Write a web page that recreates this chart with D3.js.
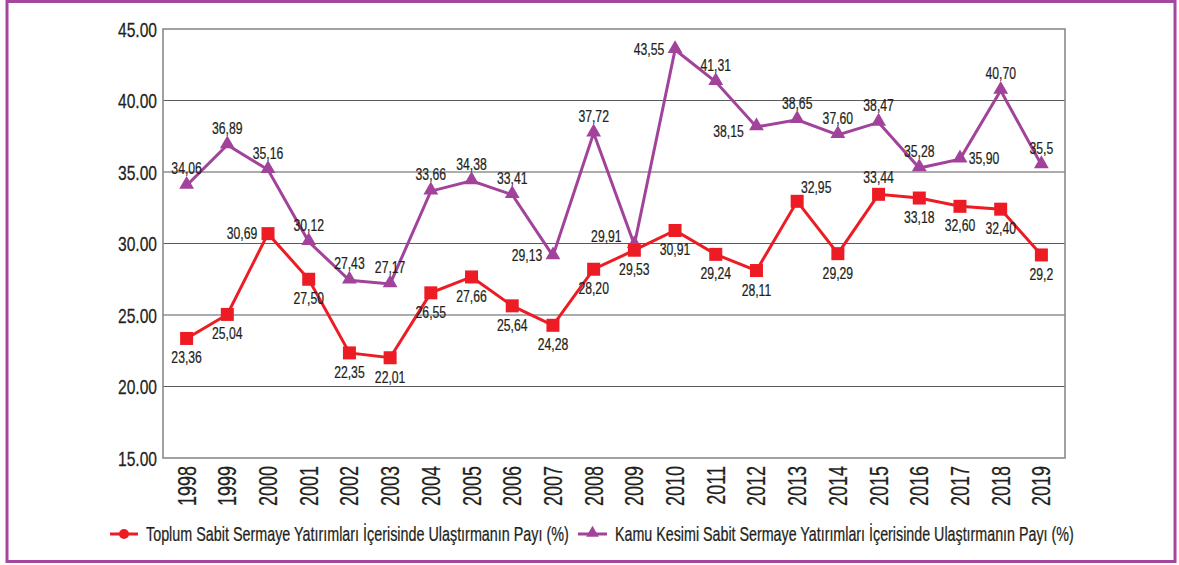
<!DOCTYPE html>
<html>
<head>
<meta charset="utf-8">
<script src="https://cdn.jsdelivr.net/npm/d3@7"></script>
<style>
  html, body { margin: 0; padding: 0; background: #fff; }
  svg text { font-family: "Liberation Sans", Arial, sans-serif; fill: #231F20; stroke: #231F20; stroke-width: 0.25px; }
</style>
</head>
<body>
<svg id="chart" width="1179" height="565"></svg>
<script>
const years = ["1998","1999","2000","2001","2002","2003","2004","2005","2006","2007","2008","2009","2010","2011","2012","2013","2014","2015","2016","2017","2018","2019"];
const toplumValues = [23.36,25.04,30.69,27.50,22.35,22.01,26.55,27.66,25.64,24.28,28.20,29.53,30.91,29.24,28.11,32.95,29.29,33.44,33.18,32.60,32.40,29.2];
const toplumLabels = ["23,36","25,04","30,69","27,50","22,35","22,01","26,55","27,66","25,64","24,28","28,20","29,53","30,91","29,24","28,11","32,95","29,29","33,44","33,18","32,60","32,40","29,2"];
const kamuValues = [34.06,36.89,35.16,30.12,27.43,27.17,33.66,34.38,33.41,29.13,37.72,29.91,43.55,41.31,38.15,38.65,37.60,38.47,35.28,35.90,40.70,35.5];
const kamuLabels = ["34,06","36,89","35,16","30,12","27,43","27,17","33,66","34,38","33,41","29,13","37,72","29,91","43,55","41,31","38,15","38,65","37,60","38,47","35,28","35,90","40,70","35,5"];
const yTicks = [15,20,25,30,35,40,45];
const seriesNames = ["Toplum Sabit Sermaye Yatırımları İçerisinde Ulaştırmanın Payı (%)","Kamu Kesimi Sabit Sermaye Yatırımları İçerisinde Ulaştırmanın Payı (%)"];
// label placement codes (t = above, b = below, l = left, r = right, ...)
const toplumPlace = ["b","b","l","b","b","b","b","b","b","b","b","b","b","b","b","tr","b","t","b","b","b","b"];
const kamuPlace = ["t","t","t","t","t","t","t","t","t","l","t","lt","l","t","lb","t","t","t","t","r","t","t"];

const RED = "#ED1C24", PURPLE = "#A2439B", TEXT = "#231F20";
const svg = d3.select("#chart");

// outer frame
svg.append("rect").attr("x", 7).attr("y", 1.5).attr("width", 1168).attr("height", 560)
  .attr("fill", "none").attr("stroke", "#A5479E").attr("stroke-width", 3);

const pLeft = 163, pRight = 1065, pTop = 29, pBottom = 458;
const x = d3.scalePoint().domain(years).range([pLeft, pRight]).padding(0.58);
const y = d3.scaleLinear().domain([15, 45]).range([pBottom, pTop]);

// gridlines
svg.append("g").selectAll("line").data(yTicks.filter(t => t > 15 && t < 45)).join("line")
  .attr("x1", pLeft).attr("x2", pRight).attr("y1", d => y(d)).attr("y2", d => y(d))
  .attr("stroke", "#5a5a5a").attr("stroke-width", 1.2);
// plot frame
svg.append("rect").attr("x", pLeft).attr("y", pTop).attr("width", pRight - pLeft).attr("height", pBottom - pTop)
  .attr("fill", "none").attr("stroke", "#8a8a8a").attr("stroke-width", 1.6);

// y axis labels (condensed via horizontal scale)
const yAxis = d3.axisLeft(y).tickValues(yTicks).tickFormat(d3.format(".2f")).tickSize(0).tickPadding(0);
const yg = svg.append("g").attr("transform", `translate(${pLeft},0)`).call(yAxis);
yg.select(".domain").remove();
yg.selectAll(".tick").each(function(d) {
  const t = d3.select(this).select("text");
  t.attr("x", null).attr("dy", null).attr("font-size", 20).attr("fill", TEXT)
   .style("font-family", '"Liberation Sans", Arial, sans-serif')
   .attr("text-anchor", "end")
   .attr("transform", `translate(-6,7.2) scale(0.78,1)`);
});

// x axis labels (rotated, condensed)
const xg = svg.append("g");
xg.selectAll("text").data(years).join("text")
  .attr("transform", d => `translate(${x(d)},${pBottom + 8}) rotate(-90) scale(0.72,1)`)
  .attr("text-anchor", "end").attr("dy", "0.36em").attr("font-size", 25).text(d => d);

// lines
const line = d3.line().x((d, i) => x(years[i])).y(d => y(d));
svg.append("path").datum(kamuValues).attr("d", line).attr("fill", "none").attr("stroke", PURPLE).attr("stroke-width", 3);
svg.append("path").datum(toplumValues).attr("d", line).attr("fill", "none").attr("stroke", RED).attr("stroke-width", 3);

// markers
const tri = d3.symbol().type(d3.symbolTriangle).size(95);
svg.append("g").selectAll("path").data(kamuValues).join("path")
  .attr("d", tri).attr("fill", PURPLE)
  .attr("transform", (d, i) => `translate(${x(years[i])},${y(d) - 1})`);
svg.append("g").selectAll("rect").data(toplumValues).join("rect")
  .attr("x", (d, i) => x(years[i]) - 6.5).attr("y", d => y(d) - 6.5)
  .attr("width", 13).attr("height", 13).attr("fill", RED);

// value labels
const offs = {
  t: [0, -11], b: [0, 25], l: [-26, 5], r: [24, 5], tr: [19, -8], lt: [-28, -3], lb: [-28, 10]
};
function labels(vals, texts, places) {
  svg.append("g").selectAll("text").data(vals).join("text")
    .attr("transform", (d, i) => `translate(${x(years[i]) + offs[places[i]][0]},${y(d) + offs[places[i]][1]}) scale(0.74,1)`)
    .attr("text-anchor", "middle").attr("font-size", 16.5)
    .text((d, i) => texts[i]);
}
labels(kamuValues, kamuLabels, kamuPlace);
labels(toplumValues, toplumLabels, toplumPlace);

// legend
const ly = 534;
const lg = svg.append("g");
function legendText(x0, width, txt) {
  const t = lg.append("text").attr("font-size", 19.5).text(txt);
  const len = t.node().getComputedTextLength();
  t.attr("transform", `translate(${x0},${ly + 7}) scale(${width / len},1)`);
}
lg.append("line").attr("x1", 110).attr("x2", 138).attr("y1", ly).attr("y2", ly).attr("stroke", RED).attr("stroke-width", 3);
lg.append("circle").attr("cx", 124).attr("cy", ly).attr("r", 5).attr("fill", RED);
legendText(146, 423, seriesNames[0]);
lg.append("line").attr("x1", 578).attr("x2", 607).attr("y1", ly).attr("y2", ly).attr("stroke", PURPLE).attr("stroke-width", 3);
lg.append("path").attr("d", d3.symbol().type(d3.symbolTriangle).size(70)).attr("fill", PURPLE)
  .attr("transform", `translate(592.5,${ly - 1})`);
legendText(615, 459, seriesNames[1]);
</script>
</body>
</html>
